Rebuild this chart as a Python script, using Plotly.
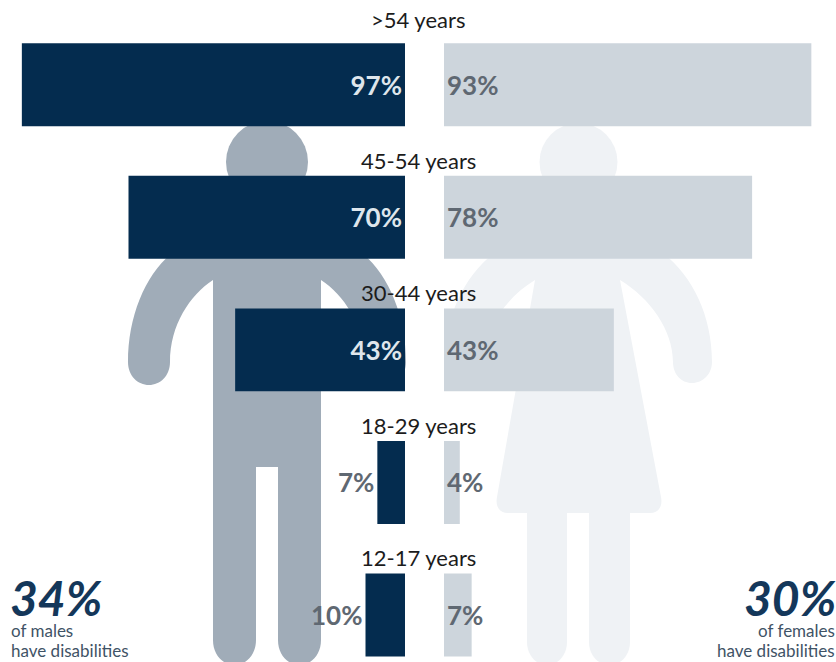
import plotly.graph_objects as go

W, H = 836, 662

age_groups = ["12-17 years", "18-29 years", "30-44 years", "45-54 years", ">54 years"]
male_pct = [10, 7, 43, 70, 97]
female_pct = [7, 4, 43, 78, 93]
male_text_pos = ["outside", "outside", "inside", "inside", "inside"]
male_text_col = ["#5f6872", "#5f6872", "#dfe6ec", "#dfe6ec", "#dfe6ec"]

NAVY = "#042c4f"
PALE = "#cdd5dc"
MALE_FIG = "#a0acb8"
FEMALE_FIG = "#eff2f5"
FONT = "Lato"


def px(x, y):
    return f"{x / W:.5f} {1 - y / H:.5f}"


def path(cmds):
    """Build a paper-referenced SVG path from (command, x, y, ...) tuples in pixels."""
    out = []
    for cmd, *c in cmds:
        pts = [px(c[i], c[i + 1]) for i in range(0, len(c), 2)]
        out.append(cmd + " " + ", ".join(pts))
    return " ".join(out) + " Z"


def filled(cmds, color):
    return dict(type="path", xref="paper", yref="paper", path=path(cmds),
                fillcolor=color, line_width=0, layer="below")


def head(cx, cy, r, color):
    return dict(type="circle", xref="paper", yref="paper",
                x0=(cx - r) / W, x1=(cx + r) / W,
                y0=1 - (cy + r) / H, y1=1 - (cy - r) / H,
                fillcolor=color, line_width=0, layer="below")


male_body = [
    ("M", 205, 238),
    ("C", 160, 245, 128, 300, 128, 362),
    ("C", 128, 376, 138, 385, 149, 385),
    ("C", 160, 385, 170, 376, 170, 362),
    ("C", 170, 325, 190, 295, 213, 280),
    ("L", 213, 640),
    ("C", 213, 655, 223, 665, 234.5, 665),
    ("C", 246, 665, 256, 655, 256, 640),
    ("L", 256, 467), ("L", 278, 467), ("L", 278, 640),
    ("C", 278, 655, 288, 665, 299.5, 665),
    ("C", 311, 665, 321, 655, 321, 640),
    ("L", 321, 280),
    ("C", 344, 295, 364, 325, 364, 362),
    ("C", 364, 376, 374, 385, 385, 385),
    ("C", 396, 385, 406, 376, 406, 362),
    ("C", 406, 300, 374, 245, 329, 238),
]

female_body = [
    ("M", 525, 238),
    ("C", 480, 250, 445, 300, 445, 362),
    ("C", 445, 374, 454, 383, 465, 383),
    ("C", 476, 383, 484, 374, 484, 362),
    ("C", 484, 330, 505, 298, 535, 280),
    ("L", 497, 497),
    ("C", 495, 507, 500, 513, 508, 513),
    ("L", 650, 513),
    ("C", 658, 513, 663, 507, 661, 497),
    ("L", 620, 280),
    ("C", 650, 298, 673, 330, 673, 362),
    ("C", 673, 374, 681, 383, 692, 383),
    ("C", 703, 383, 712, 374, 712, 362),
    ("C", 712, 300, 677, 250, 632, 238),
]


def female_leg(x0, x1):
    mid = (x0 + x1) / 2
    return [
        ("M", x0, 505), ("L", x0, 642),
        ("C", x0, 655, x0 + 9, 665, mid, 665),
        ("C", x1 - 9, 665, x1, 655, x1, 642),
        ("L", x1, 505),
    ]


shapes = [
    head(267, 162, 41, MALE_FIG),
    filled(male_body, MALE_FIG),
    head(578.5, 162, 39, FEMALE_FIG),
    filled(female_body, FEMALE_FIG),
    filled(female_leg(527, 567), FEMALE_FIG),
    filled(female_leg(589, 630), FEMALE_FIG),
]

fig = go.Figure()
fig.add_bar(
    y=age_groups, x=male_pct, orientation="h", width=0.626,
    marker=dict(color=NAVY, line_width=0),
    text=[f"{v}%" for v in male_pct],
    textposition=male_text_pos, insidetextanchor="start", textangle=0,
    constraintext="none", cliponaxis=False,
    textfont=dict(family=FONT, size=26, color=male_text_col, weight="bold"),
    xaxis="x", yaxis="y", hoverinfo="skip",
)
fig.add_bar(
    y=age_groups, x=female_pct, orientation="h", width=0.626,
    marker=dict(color=PALE, line_width=0),
    text=[f"{v}%" for v in female_pct],
    textposition="inside", insidetextanchor="start", textangle=0,
    constraintext="none", cliponaxis=False,
    textfont=dict(family=FONT, size=26, color="#5f6872", weight="bold"),
    xaxis="x2", yaxis="y", hoverinfo="skip",
)

# Age labels sit centred between the two bar groups, just above each row.
label_y = [557, 425, 293, 160, 20]
annotations = [
    dict(text=a, x=418 / W, y=1 - ly / H, xref="paper", yref="paper",
         xanchor="center", yanchor="middle", showarrow=False,
         font=dict(family=FONT, size=22, color="#1c1c1c"))
    for a, ly in zip(age_groups, label_y)
]


def note(text, x, y, anchor, size, color, **font):
    return dict(text=text, x=x / W, y=1 - y / H, xref="paper", yref="paper",
                xanchor=anchor, yanchor="middle", showarrow=False, align=anchor,
                font=dict(family=FONT, size=size, color=color, **font))


annotations += [
    note("34%", 8, 597, "left", 48, "#14375a", weight="bold", style="italic"),
    note("of males", 9, 630, "left", 17, "#3f5366"),
    note("have disabilities", 9, 650, "left", 17, "#3f5366"),
    note("30%", 838, 597, "right", 48, "#14375a", weight="bold", style="italic"),
    note("of females", 837, 630, "right", 17, "#3f5366"),
    note("have disabilities", 837, 650, "right", 17, "#3f5366"),
]

PX_PER_PCT = 3.95
hidden = dict(visible=False, showgrid=False, zeroline=False, fixedrange=True)
fig.update_layout(
    width=W, height=H, autosize=False,
    margin=dict(l=0, r=0, t=0, b=0),
    paper_bgcolor="white", plot_bgcolor="rgba(0,0,0,0)",
    showlegend=False, barmode="overlay",
    shapes=shapes, annotations=annotations,
    xaxis=dict(domain=[0, 405 / W], range=[405 / PX_PER_PCT, 0], **hidden),
    xaxis2=dict(domain=[444 / W, 1], range=[0, (W - 444) / PX_PER_PCT], **hidden),
    yaxis=dict(type="category", categoryorder="array", categoryarray=age_groups,
               range=[-0.355, 4.64], **hidden),
)

fig.write_html("out.html", config=dict(displayModeBar=False))
